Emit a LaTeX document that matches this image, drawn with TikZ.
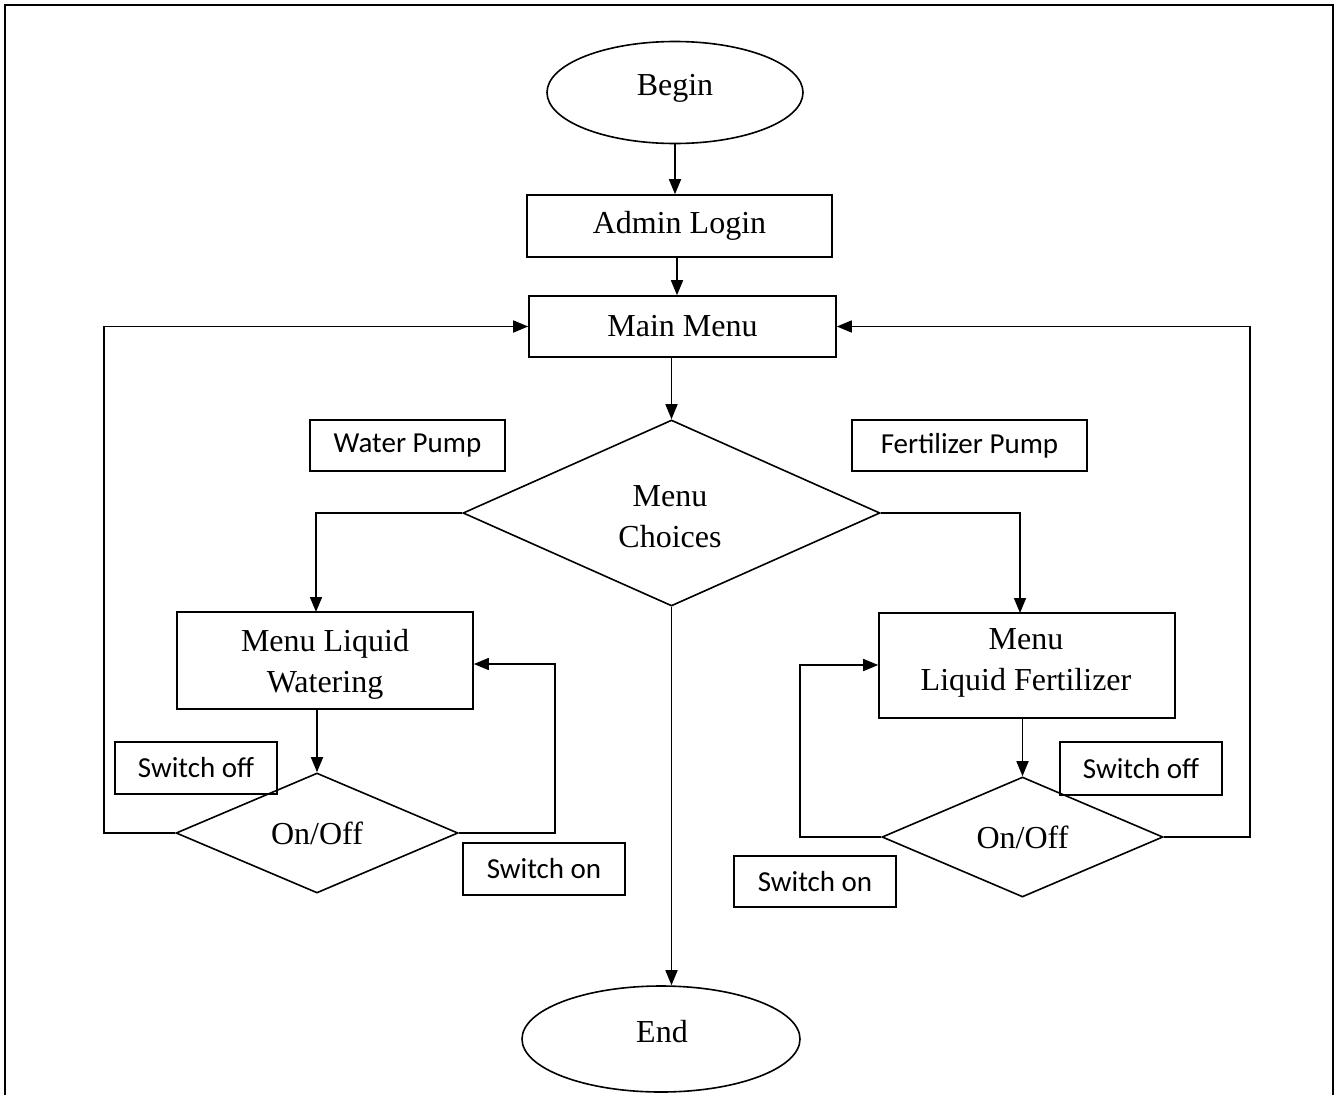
\documentclass[tikz,border=0pt]{standalone}
\usepackage{fontspec}
\setmainfont{Liberation Serif}
\newfontfamily\calfont{Carlito}
\usetikzlibrary{shapes.geometric,arrows.meta}
\begin{document}
\begin{tikzpicture}[x=1pt,y=-1pt,line width=1.6pt,
  arr/.style={-{Triangle[length=15pt,width=12pt]}},
  serif/.style={font=\fontsize{32}{41}\selectfont,align=center},
  boxx/.style={draw,rectangle,inner sep=0pt},
  tag/.style={draw,rectangle,inner sep=0pt,font=\calfont\fontsize{29}{32}\selectfont},
  oval/.style={draw,ellipse,inner sep=0pt},
  dia/.style={draw,diamond,inner sep=0pt}]
\useasboundingbox (0,0) rectangle (1338,1095);
\draw (5,1095) -- (5,5) -- (1333,5) -- (1333,1095);

% main nodes
\node[oval,minimum width=256pt,minimum height=102pt] (begin) at (675,92.5) {};
\node[serif] (tbegin) at (675,88) {Begin};
\node[boxx,serif,minimum width=305pt,minimum height=62pt] (admin) at (679.5,226) {Admin Login};
\node[boxx,serif,minimum width=307pt,minimum height=61pt] (main) at (682.5,326.5) {Main Menu};
\node[dia,minimum width=417pt,minimum height=186pt] (choices) at (671.5,513) {};
\node[serif] (tchoices) at (670,517) {Menu\\Choices};
\node[boxx,minimum width=296pt,minimum height=97pt] (wat) at (325,660.5) {};
\node[serif] (twat) at (325,664) {Menu Liquid\\Watering};
\node[boxx,minimum width=296pt,minimum height=105pt] (fert) at (1027,665.5) {};
\node[serif] (tfert) at (1026,662.5) {Menu\\Liquid Fertilizer};
\node[dia,minimum width=282pt,minimum height=120pt] (onL) at (317,833) {};
\node[serif] (tonL) at (317,833) {On/Off};
\node[dia,minimum width=281pt,minimum height=120pt] (onR) at (1022.5,837) {};
\node[serif] (tonR) at (1022.5,837) {On/Off};
\node[oval,minimum width=278pt,minimum height=106pt] (end) at (661,1039) {};
\node[serif] (tend) at (662,1032) {End};

% tags
\node[tag,minimum width=195pt,minimum height=51pt] (wp) at (407.5,445.5) {Water Pump};
\node[tag,minimum width=235pt,minimum height=51pt] (fp) at (969.5,445.5) {Fertilizer Pump};
\node[tag,minimum width=162pt,minimum height=52pt] (soffL) at (196,768) {Switch off};
\node[tag,minimum width=162pt,minimum height=52pt] (sonL) at (544,869) {Switch on};
\node[tag,minimum width=162pt,minimum height=53pt] (soffR) at (1141,768.5) {Switch off};
\node[tag,minimum width=162pt,minimum height=51pt] (sonR) at (815,881.5) {Switch on};

% coordinates
\coordinate (wtop) at (316,612);
\coordinate (ftop) at (1020,613);
\coordinate (lo) at (104,326.5);
\coordinate (ro) at (1250,326.5);
\coordinate (li) at (555,664);
\coordinate (ri) at (800,665);

% connectors
\draw[arr] (begin.south) -- (begin.south |- admin.north);
\draw[arr] (677,0 |- admin.south) -- (677,0 |- main.north);
\draw[arr] (choices.north |- main.south) -- (choices.north);
\draw[arr] (choices.west) -| (wtop);
\draw[arr] (choices.east) -| (ftop);
\draw[arr] (choices.south) -- (choices.south |- end.north);
\draw[arr] (onL.north |- wat.south) -- (onL.north);
\draw[arr] (onR.north |- fert.south) -- (onR.north);
\draw[arr] (onL.west) -| (lo) -- (main.west);
\draw[arr] (onR.east) -| (ro) -- (main.east);
\draw[arr] (onL.east) -| (li) -- (li -| wat.east);
\draw[arr] (onR.west) -| (ri) -- (ri -| fert.west);
\end{tikzpicture}
\end{document}
